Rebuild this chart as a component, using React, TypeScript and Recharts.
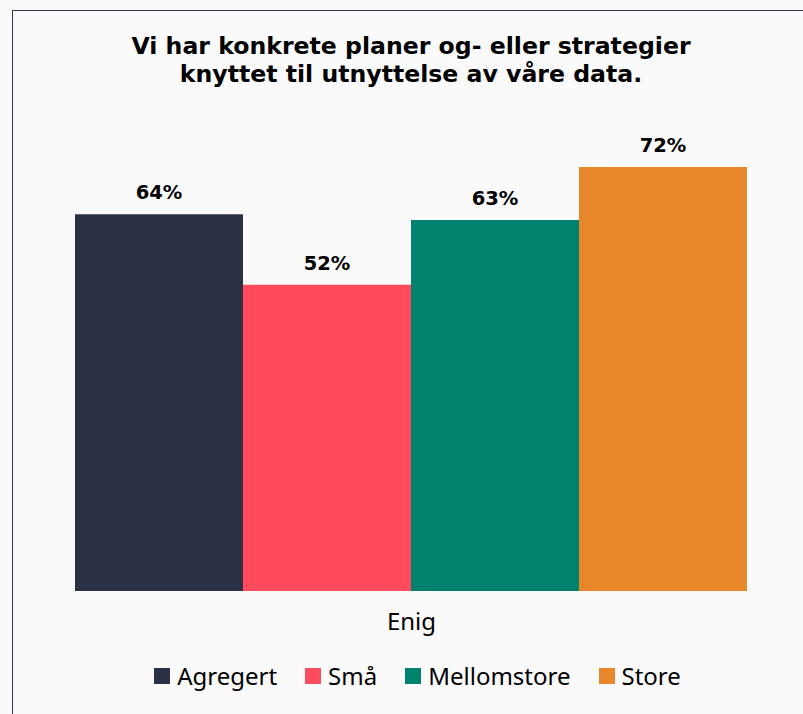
import React from 'react';
import { BarChart, Bar, XAxis, YAxis, LabelList } from 'recharts';

const categories = ['Enig'];
const seriesNames = ['Agregert', 'Små', 'Mellomstore', 'Store'];
const seriesValues = [64, 52, 63, 72];
const palette = ['#2b3045', '#ff4b5c', '#00826e', '#e8862a'];

const data = categories.map((name) => {
  const row: Record<string, string | number> = { name };
  seriesNames.forEach((s, i) => {
    row[s] = seriesValues[i];
  });
  return row;
});

const LegendBlock = () => (
  <div
    style={{
      position: 'absolute',
      left: 12,
      top: 660,
      width: 811,
      display: 'flex',
      justifyContent: 'center',
      alignItems: 'center',
      fontFamily: '"Noto Sans", sans-serif',
      fontSize: 24,
      lineHeight: '32px',
      color: '#000',
    }}
  >
    {seriesNames.map((s, i) => (
      <div key={s} style={{ display: 'flex', alignItems: 'center', marginRight: i < 3 ? 28 : 0 }}>
        <span style={{ width: 16, height: 16, background: palette[i], display: 'inline-block', marginRight: 7 }} />
        <span>{s}</span>
      </div>
    ))}
  </div>
);

export default function App() {
  return (
    <div
      style={{
        position: 'absolute',
        left: 0,
        top: 0,
        width: 803,
        height: 714,
        overflow: 'hidden',
        background: '#fafafa',
      }}
    >
      <div
        style={{
          position: 'absolute',
          left: 12,
          top: 10,
          width: 820,
          height: 740,
          border: '1px solid #2e3650',
        }}
      />
      <div
        style={{
          position: 'absolute',
          left: 0,
          top: 32,
          width: 822,
          textAlign: 'center',
          fontFamily: '"DejaVu Sans", sans-serif',
          fontWeight: 'bold',
          fontSize: 23.6,
          lineHeight: '28px',
          color: '#000',
        }}
      >
        Vi har konkrete planer og- eller strategier
        <br />
        knyttet til utnyttelse av våre data.
      </div>
      <div style={{ position: 'absolute', left: 0, top: 0 }}>
        <BarChart
          width={803}
          height={714}
          data={data}
          margin={{ top: 120, right: 55, left: 75, bottom: 93 }}
          barCategoryGap={0}
          barGap={0}
        >
          <XAxis
            dataKey="name"
            axisLine={false}
            tickLine={false}
            tick={{ fontSize: 24, fill: '#000', fontFamily: '"Noto Sans", sans-serif' }}
            tickMargin={16}
          />
          <YAxis hide domain={[0, 80]} />
          {seriesNames.map((s, i) => (
            <Bar key={s} dataKey={s} fill={palette[i]} isAnimationActive={false}>
              <LabelList
                dataKey={s}
                position="top"
                offset={15}
                formatter={(v: number) => `${v}%`}
                style={{ fontSize: 19.5, fontWeight: 'bold', fill: '#000', fontFamily: '"DejaVu Sans", sans-serif' }}
              />
            </Bar>
          ))}
        </BarChart>
      </div>
      <LegendBlock />
    </div>
  );
}
